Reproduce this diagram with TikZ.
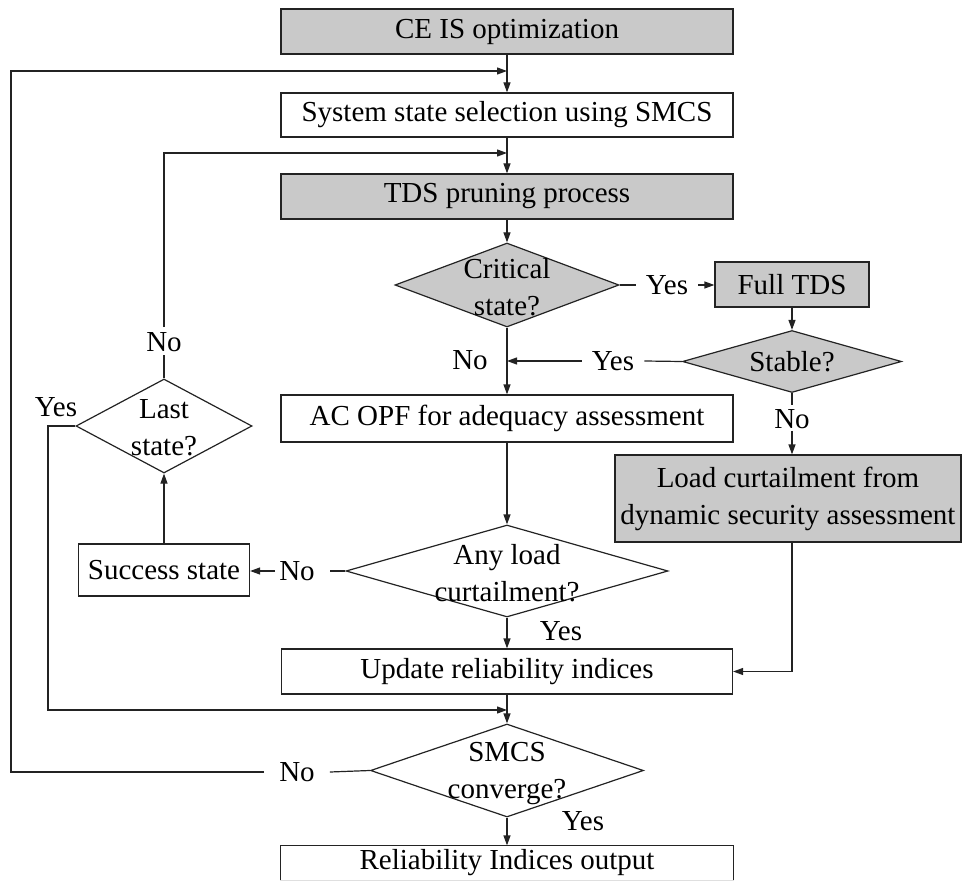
\documentclass[tikz,border=0pt]{standalone}
\usepackage{fontspec}
\setmainfont{Liberation Serif}
\usetikzlibrary{arrows.meta,shapes.geometric}
\definecolor{boxgray}{RGB}{201,201,201}
\definecolor{ink}{RGB}{35,35,35}
\begin{document}
\begin{tikzpicture}[x=1pt,y=-1pt,
  every node/.style={font=\fontsize{29}{37}\selectfont, text=black},
  procbox/.style={draw=ink, line width=1.2pt, fill=white, inner sep=0pt, align=center},
  graybox/.style={procbox, fill=boxgray},
  dia/.style={diamond, draw=ink, line width=1.2pt, fill=white, inner sep=0pt},
  graydia/.style={dia, fill=boxgray},
  dtext/.style={align=center, inner sep=0pt},
  lbl/.style={inner sep=0pt},
  conn/.style={draw=ink, line width=1.2pt},
  arr/.style={conn, -{Triangle[length=10pt,width=7pt]}}
]
\useasboundingbox (0,0) rectangle (963,890);

% main column boxes
\node[graybox, minimum width=452pt, minimum height=45pt] (ce) at (507,31.5) {CE IS optimization};
\node[procbox, minimum width=452pt, minimum height=44pt] (sys) at (507,115) {System state selection using SMCS};
\node[graybox, minimum width=452pt, minimum height=45pt] (tds) at (507,196.5) {TDS pruning process};
\node[graydia, minimum width=224pt, minimum height=84pt] (crit) at (507,285) {};
\node[dtext] (critT) at (507,287) {Critical\\state?};
\node[procbox, minimum width=452pt, minimum height=47pt] (acopf) at (507,418.5) {AC OPF for adequacy assessment};
\node[dia, minimum width=322pt, minimum height=92pt] (any) at (507,571) {};
\node[dtext] (anyT) at (507,573) {Any load\\curtailment?};
\node[procbox, minimum width=451pt, minimum height=45pt] (update) at (507,671.5) {Update reliability indices};
\node[dia, minimum width=273pt, minimum height=93pt] (smcs) at (507,770.5) {};
\node[dtext] (smcsT) at (507,774) {SMCS\\converge?};
\node[procbox, draw=none, minimum width=452pt, minimum height=34pt] (out) at (507,863) {Reliability Indices output};
\draw[conn] (out.south west) -- (out.north west) -- (out.north east) -- (out.south east);
\draw[gray!25, line width=1pt] (out.south west) -- (out.south east);

% right column
\node[graybox, minimum width=154pt, minimum height=45pt] (full) at (792,284.5) {Full TDS};
\node[graydia, minimum width=219pt, minimum height=62pt] (stable) at (792,361.5) {};
\node[dtext] (stableT) at (792,361.5) {Stable?};
\node[graybox, minimum width=346pt, minimum height=87pt] (load) at (788,498.5) {Load curtailment from\\dynamic security assessment};

% left column
\node[dia, minimum width=176pt, minimum height=94pt] (lastst) at (164,426) {};
\node[dtext] (lastT) at (164,428) {Last\\state?};
\node[procbox, minimum width=171pt, minimum height=52pt] (success) at (164,570) {Success state};

% labels
\node[lbl, inner xsep=10pt] (critYes) at (667,285) {Yes};
\node[lbl, inner xsep=10pt] (stYes) at (613,361) {Yes};
\node[lbl] (crNo) at (470,360) {No};
\node[lbl] (stNo) at (792,419) {No};
\node[lbl] (lsNo) at (164,342) {No};
\node[lbl] (lsYes) at (56,407) {Yes};
\node[lbl] (anyNo) at (297,571) {No};
\node[lbl] (anyYes) at (561,631) {Yes};
\node[lbl, inner xsep=15pt] (smNo) at (297,772) {No};
\node[lbl] (smYes) at (583,821) {Yes};

% junction coordinates
\coordinate (j1) at (507,71);
\coordinate (j2) at (507,153);
\coordinate (jy) at (507,361);
\coordinate (j3) at (507,710);
\coordinate (fl) at (11,71);
\coordinate (yl) at (48,710);

% main flow
\draw[arr] (ce) -- (sys);
\draw[arr] (sys) -- (tds);
\draw[arr] (tds) -- (crit);
\draw[arr] (crit) -- (acopf);
\draw[arr] (acopf) -- (any);
\draw[arr] (any) -- (update);
\draw[arr] (update) -- (smcs);
\draw[arr] (smcs) -- (out);

% critical -> full TDS -> stable
\draw[conn] (crit.east) -- (critYes.west);
\draw[arr] (critYes.east) -- (critYes.east -| full.west);
\draw[arr] (full) -- (stable);
\draw[conn] (stable.west) -- (stYes.east);
\draw[arr] (stYes.west) -- (jy);
\draw[conn] (stable.south) -- ([yshift=4pt]stNo.north);
\draw[arr] ([yshift=-2pt]stNo.south) -- (stNo |- load.north);
\draw[arr] (stNo |- load.south) |- (update.east);

% any load -> success -> last state
\draw[conn] (any.west) -- ([xshift=15pt]anyNo.east);
\draw[arr] ([xshift=-4pt]anyNo.west) -- (anyNo.west -| success.east);
\draw[arr] (success) -- (lastst);
\draw[conn] (lastst.north) -- ([yshift=-3pt]lsNo.south);
\draw[arr] ([yshift=5pt]lsNo.north) |- (j2);
\draw[arr] (lastst.west) -| (yl) -- (j3);

% SMCS loop
\draw[conn] (smcs.west) -- (smNo.east);
\draw[arr] (smNo.west) -| (fl) -- (j1);
\end{tikzpicture}
\end{document}
